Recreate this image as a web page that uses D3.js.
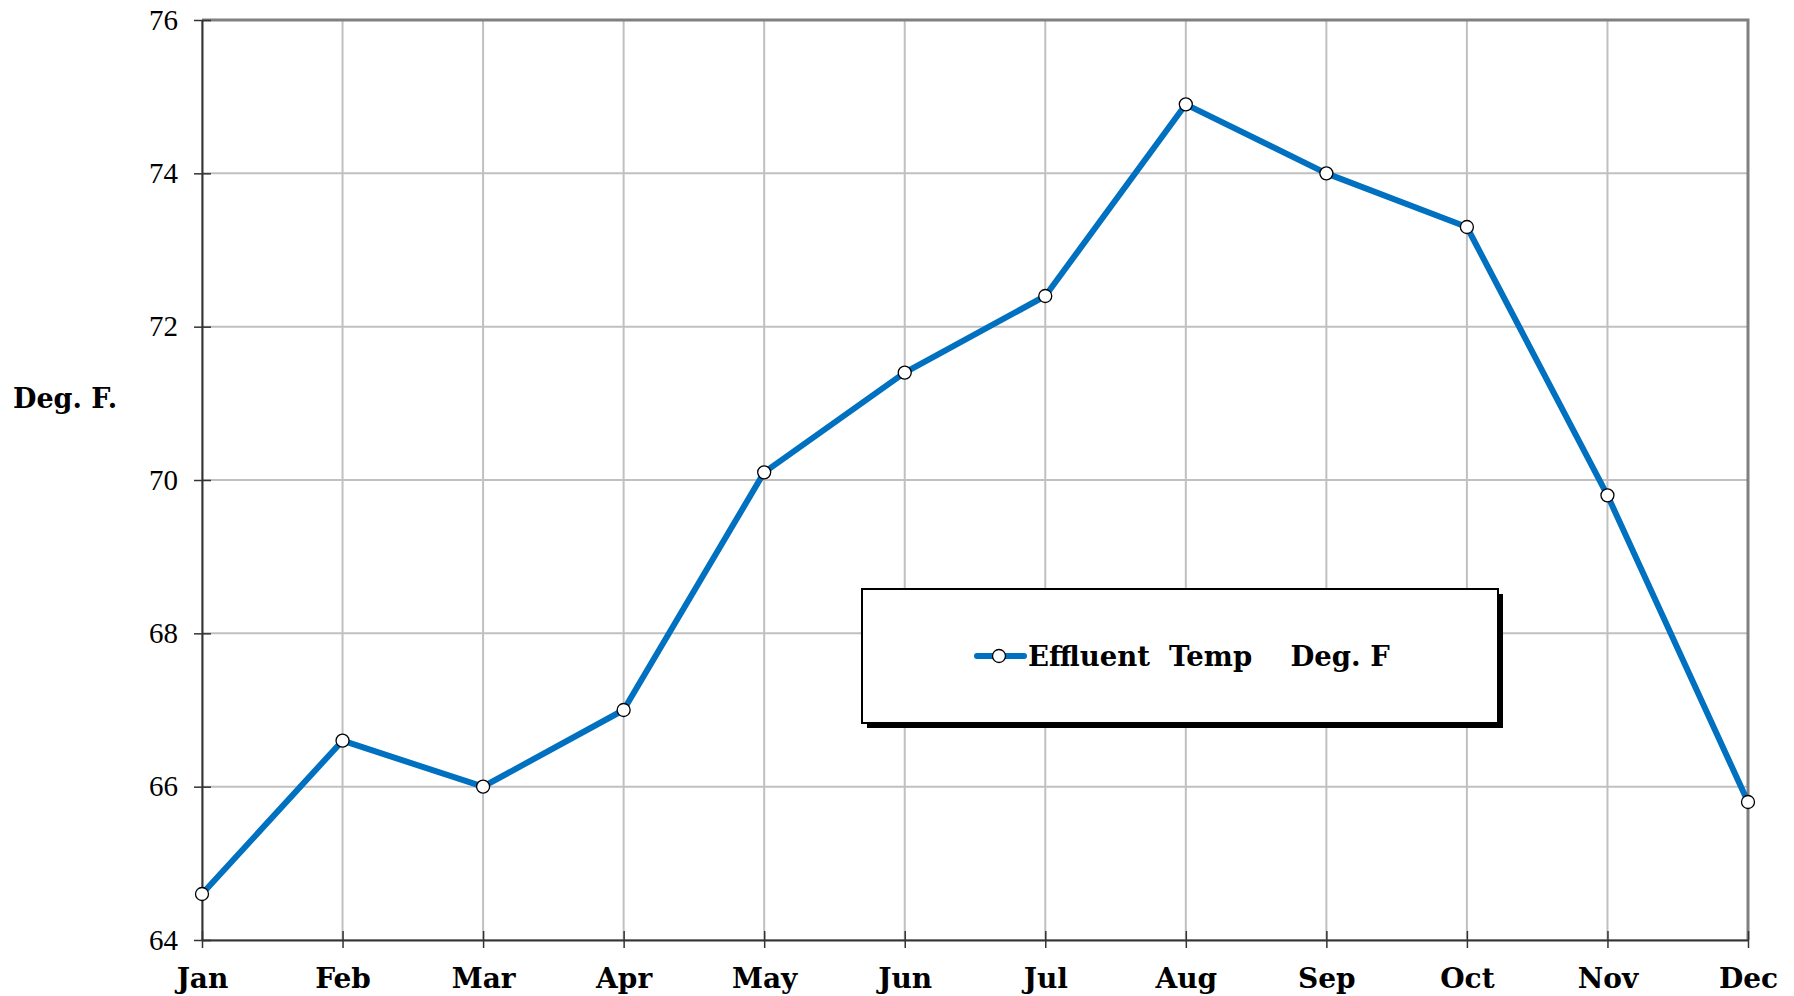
<!DOCTYPE html>
<html>
<head>
<meta charset="utf-8">
<script src="https://cdn.jsdelivr.net/npm/d3@7"></script>
<style>
  body { margin: 0; background: #fff; }
  svg { display: block; }
</style>
</head>
<body>
<div id="chart"></div>
<script>
// chart data
var months = ["Jan", "Feb", "Mar", "Apr", "May", "Jun", "Jul", "Aug", "Sep", "Oct", "Nov", "Dec"];
var temps = [64.6, 66.6, 66.0, 67.0, 70.1, 71.4, 72.4, 74.9, 74.0, 73.3, 69.8, 65.8];
var yTicks = [64, 66, 68, 70, 72, 74, 76];
var seriesName = "Effluent  Temp    Deg. F";

var svgWidth = 1794, svgHeight = 996;
var margin = { top: 20, right: 46, bottom: 56, left: 202 };
var chartWidth = svgWidth - margin.left - margin.right;
var chartHeight = svgHeight - margin.top - margin.bottom;

var svg = d3.select("#chart").append("svg")
  .attr("width", svgWidth)
  .attr("height", svgHeight);

var chartGroup = svg.append("g")
  .attr("transform", `translate(${margin.left}, ${margin.top})`);

var xScale = d3.scalePoint().domain(months).range([0, chartWidth]);
var yScale = d3.scaleLinear().domain([64, 76]).range([chartHeight, 0]);

// gridlines
chartGroup.selectAll(".vgrid").data(months).enter().append("line")
  .attr("x1", d => xScale(d)).attr("x2", d => xScale(d))
  .attr("y1", 0).attr("y2", chartHeight)
  .attr("stroke", "#c0c0c0").attr("stroke-width", 2);

chartGroup.selectAll(".hgrid").data(yTicks).enter().append("line")
  .attr("x1", 0).attr("x2", chartWidth)
  .attr("y1", d => yScale(d)).attr("y2", d => yScale(d))
  .attr("stroke", "#c0c0c0").attr("stroke-width", 2);

// top and right border
chartGroup.append("path")
  .attr("d", `M0,0H${chartWidth}V${chartHeight}`)
  .attr("fill", "none").attr("stroke", "#808080").attr("stroke-width", 3);

// axes
var bottomAxis = d3.axisBottom(xScale).tickSizeInner(8).tickSizeOuter(0);
var leftAxis = d3.axisLeft(yScale).tickValues(yTicks).tickSizeInner(8).tickSizeOuter(0).tickPadding(16);

var xAxis = chartGroup.append("g")
  .attr("transform", `translate(0, ${chartHeight})`)
  .call(bottomAxis);
xAxis.selectAll("line").attr("y1", -9);
xAxis.select(".domain").attr("stroke", "#333").attr("stroke-width", 2);
xAxis.selectAll(".tick line").attr("stroke", "#333").attr("stroke-width", 1.5);
xAxis.selectAll("text")
  .attr("y", 48)
  .attr("dy", 0)
  .attr("font-family", "'DejaVu Serif', serif")
  .attr("font-weight", "700")
  .attr("font-size", "28px")
  .attr("fill", "#000");

var yAxis = chartGroup.append("g").call(leftAxis);
yAxis.selectAll(".tick line").attr("x1", 9);
yAxis.select(".domain").attr("stroke", "#333").attr("stroke-width", 2);
yAxis.selectAll(".tick line").attr("stroke", "#333").attr("stroke-width", 1.5);
yAxis.selectAll("text")
  .attr("x", -24)
  .attr("font-family", "'Liberation Serif', serif")
  .attr("font-size", "29px")
  .attr("fill", "#000");

// y axis label
svg.append("text")
  .attr("x", 13)
  .attr("y", 408)
  .text("Deg. F.")
  .attr("font-family", "'DejaVu Serif', serif")
  .attr("font-weight", "700")
  .attr("font-size", "27px");

// line
var line = d3.line().x((d, i) => xScale(months[i])).y(d => yScale(d));
chartGroup.append("path")
  .datum(temps)
  .attr("d", line)
  .attr("fill", "none")
  .attr("stroke", "#0070c0")
  .attr("stroke-width", 6)
  .attr("stroke-linejoin", "round");

chartGroup.selectAll(".pt").data(temps).enter().append("circle")
  .attr("cx", (d, i) => xScale(months[i]))
  .attr("cy", d => yScale(d))
  .attr("r", 6.5)
  .attr("fill", "#fff")
  .attr("stroke", "#000")
  .attr("stroke-width", 1.3);

// legend
var legend = svg.append("g").attr("transform", "translate(862, 589)");
legend.append("rect").attr("x", 5).attr("y", 5).attr("width", 636).attr("height", 134).attr("fill", "#000");
legend.append("rect").attr("width", 636).attr("height", 134)
  .attr("fill", "#fff").attr("stroke", "#000").attr("stroke-width", 2);
legend.append("line").attr("x1", 115).attr("x2", 162).attr("y1", 67).attr("y2", 67)
  .attr("stroke", "#0070c0").attr("stroke-width", 6).attr("stroke-linecap", "round");
legend.append("circle").attr("cx", 137).attr("cy", 67).attr("r", 6.5)
  .attr("fill", "#fff").attr("stroke", "#000").attr("stroke-width", 1.3);
legend.append("text")
  .attr("x", 166).attr("y", 77)
  .attr("xml:space", "preserve")
  .style("white-space", "pre")
  .text(seriesName)
  .attr("font-family", "'DejaVu Serif', serif")
  .attr("font-weight", "700")
  .attr("font-size", "27.5px");
</script>
</body>
</html>
